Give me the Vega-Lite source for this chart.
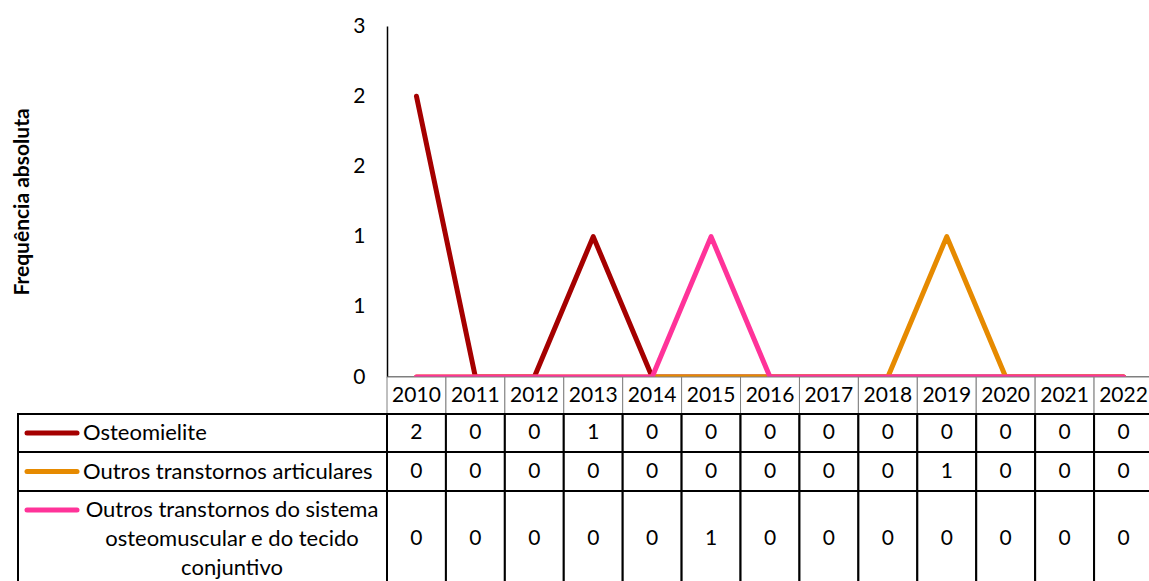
{
  "$schema": "https://vega.github.io/schema/vega-lite/v6.json",
  "padding": {"left": 11, "top": 15, "right": 0, "bottom": 0},
  "background": "white",
  "config": {"view": {"stroke": null}, "font": "Lato", "text": {"font": "Lato"}},
  "datasets": {
    "d": [
      {"ano": "2010", "serie": "Osteomielite", "valor": 2},
      {"ano": "2011", "serie": "Osteomielite", "valor": 0},
      {"ano": "2012", "serie": "Osteomielite", "valor": 0},
      {"ano": "2013", "serie": "Osteomielite", "valor": 1},
      {"ano": "2014", "serie": "Osteomielite", "valor": 0},
      {"ano": "2015", "serie": "Osteomielite", "valor": 0},
      {"ano": "2016", "serie": "Osteomielite", "valor": 0},
      {"ano": "2017", "serie": "Osteomielite", "valor": 0},
      {"ano": "2018", "serie": "Osteomielite", "valor": 0},
      {"ano": "2019", "serie": "Osteomielite", "valor": 0},
      {"ano": "2020", "serie": "Osteomielite", "valor": 0},
      {"ano": "2021", "serie": "Osteomielite", "valor": 0},
      {"ano": "2022", "serie": "Osteomielite", "valor": 0},
      {"ano": "2010", "serie": "Outros transtornos articulares", "valor": 0},
      {"ano": "2011", "serie": "Outros transtornos articulares", "valor": 0},
      {"ano": "2012", "serie": "Outros transtornos articulares", "valor": 0},
      {"ano": "2013", "serie": "Outros transtornos articulares", "valor": 0},
      {"ano": "2014", "serie": "Outros transtornos articulares", "valor": 0},
      {"ano": "2015", "serie": "Outros transtornos articulares", "valor": 0},
      {"ano": "2016", "serie": "Outros transtornos articulares", "valor": 0},
      {"ano": "2017", "serie": "Outros transtornos articulares", "valor": 0},
      {"ano": "2018", "serie": "Outros transtornos articulares", "valor": 0},
      {"ano": "2019", "serie": "Outros transtornos articulares", "valor": 1},
      {"ano": "2020", "serie": "Outros transtornos articulares", "valor": 0},
      {"ano": "2021", "serie": "Outros transtornos articulares", "valor": 0},
      {"ano": "2022", "serie": "Outros transtornos articulares", "valor": 0},
      {"ano": "2010", "serie": "Outros transtornos do sistema osteomuscular e do tecido conjuntivo", "valor": 0},
      {"ano": "2011", "serie": "Outros transtornos do sistema osteomuscular e do tecido conjuntivo", "valor": 0},
      {"ano": "2012", "serie": "Outros transtornos do sistema osteomuscular e do tecido conjuntivo", "valor": 0},
      {"ano": "2013", "serie": "Outros transtornos do sistema osteomuscular e do tecido conjuntivo", "valor": 0},
      {"ano": "2014", "serie": "Outros transtornos do sistema osteomuscular e do tecido conjuntivo", "valor": 0},
      {"ano": "2015", "serie": "Outros transtornos do sistema osteomuscular e do tecido conjuntivo", "valor": 1},
      {"ano": "2016", "serie": "Outros transtornos do sistema osteomuscular e do tecido conjuntivo", "valor": 0},
      {"ano": "2017", "serie": "Outros transtornos do sistema osteomuscular e do tecido conjuntivo", "valor": 0},
      {"ano": "2018", "serie": "Outros transtornos do sistema osteomuscular e do tecido conjuntivo", "valor": 0},
      {"ano": "2019", "serie": "Outros transtornos do sistema osteomuscular e do tecido conjuntivo", "valor": 0},
      {"ano": "2020", "serie": "Outros transtornos do sistema osteomuscular e do tecido conjuntivo", "valor": 0},
      {"ano": "2021", "serie": "Outros transtornos do sistema osteomuscular e do tecido conjuntivo", "valor": 0},
      {"ano": "2022", "serie": "Outros transtornos do sistema osteomuscular e do tecido conjuntivo", "valor": 0}
    ]
  },
  "columns": 2,
  "spacing": 0,
  "bounds": "flush",
  "align": "each",
  "resolve": {"scale": {"color": "shared"}},
  "concat": [
    {
      "width": 369, "height": 351,
      "data": {"values": [{"a": 1}]},
      "mark": {"type": "text"},
      "encoding": {"text": {"value": ""}}
    },
    {
      "width": 766, "height": 351,
      "data": {"name": "d"},
      "mark": {"type": "line", "strokeWidth": 5, "strokeCap": "round", "strokeJoin": "round"},
      "encoding": {
        "x": {"field": "ano", "type": "ordinal", "sort": null,
          "scale": {"type": "point", "padding": 0.5},
          "axis": {"labels": false, "ticks": false, "title": null, "domainColor": "black", "domainWidth": 2}},
        "y": {"field": "valor", "type": "quantitative",
          "scale": {"domain": [0, 2.5], "nice": false, "zero": true},
          "axis": {"values": [0, 0.5, 1, 1.5, 2, 2.5], "format": ".0f", "grid": false, "ticks": false,
            "domainColor": "black", "domainWidth": 1.5, "labelFontSize": 21, "labelColor": "black",
            "labelPadding": 22, "labelFont": "Lato",
            "title": "Frequência absoluta", "titleFont": "Lato", "titleFontSize": 21, "titleFontWeight": "bold",
            "titleColor": "black", "titleAngle": -90, "titleAlign": "center", "titleBaseline": "alphabetic",
            "titleX": -359, "titleY": 175.5}},
        "color": {"field": "serie", "type": "nominal",
          "scale": {"domain": ["Osteomielite", "Outros transtornos articulares", "Outros transtornos do sistema osteomuscular e do tecido conjuntivo"],
            "range": ["#A50000", "#E68A00", "#FF3399"]},
          "legend": null}
      }
    },
    {
      "width": 369, "height": 37,
      "data": {"values": [{"a": 1}]},
      "mark": {"type": "text"},
      "encoding": {"text": {"value": ""}}
    },
    {
      "width": 766, "height": 37,
      "data": {"name": "d"},
      "transform": [{"filter": "datum.serie == 'Osteomielite'"}],
      "layer": [
        {"mark": {"type": "rect", "fill": "white", "stroke": "#808080", "strokeWidth": 1},
         "encoding": {"x": {"field": "ano", "type": "ordinal", "sort": null, "scale": {"paddingInner": 0, "paddingOuter": 0}, "axis": null}}},
        {"mark": {"type": "text", "fontSize": 21, "color": "black", "baseline": "middle"},
         "encoding": {"x": {"field": "ano", "type": "ordinal", "sort": null, "axis": null}, "text": {"field": "ano"}}}
      ]
    },
    {
      "width": 369, "height": 38,
      "data": {"name": "d"},
      "transform": [{"filter": "datum.serie == 'Osteomielite' && datum.ano == '2010'"}],
      "layer": [
        {"mark": {"type": "rect", "fill": "white", "stroke": "black", "strokeWidth": 2}, "encoding": {}},
        {"mark": {"type": "rule", "strokeWidth": 5, "strokeCap": "round"},
         "encoding": {"x": {"value": 9}, "x2": {"value": 59}, "y": {"value": 19},
           "color": {"field": "serie", "type": "nominal", "legend": null}}},
        {"mark": {"type": "text", "fontSize": 22, "color": "black", "align": "left", "baseline": "middle"},
         "encoding": {"x": {"value": 65}, "text": {"field": "serie"}}}
      ]
    },
    {
      "width": 766, "height": 38,
      "data": {"name": "d"},
      "transform": [{"filter": "datum.serie == 'Osteomielite'"}],
      "layer": [
        {"mark": {"type": "rect", "fill": "white", "stroke": "black", "strokeWidth": 2},
         "encoding": {"x": {"field": "ano", "type": "ordinal", "sort": null, "scale": {"paddingInner": 0, "paddingOuter": 0}, "axis": null}}},
        {"mark": {"type": "text", "fontSize": 21, "color": "black", "baseline": "middle"},
         "encoding": {"x": {"field": "ano", "type": "ordinal", "sort": null, "axis": null}, "text": {"field": "valor"}}}
      ]
    },
    {
      "width": 369, "height": 39,
      "data": {"name": "d"},
      "transform": [{"filter": "datum.serie == 'Outros transtornos articulares' && datum.ano == '2010'"}],
      "layer": [
        {"mark": {"type": "rect", "fill": "white", "stroke": "black", "strokeWidth": 2}, "encoding": {}},
        {"mark": {"type": "rule", "strokeWidth": 5, "strokeCap": "round"},
         "encoding": {"x": {"value": 9}, "x2": {"value": 59}, "y": {"value": 19.5},
           "color": {"field": "serie", "type": "nominal", "legend": null}}},
        {"mark": {"type": "text", "fontSize": 22, "color": "black", "align": "left", "baseline": "middle"},
         "encoding": {"x": {"value": 65}, "text": {"field": "serie"}}}
      ]
    },
    {
      "width": 766, "height": 39,
      "data": {"name": "d"},
      "transform": [{"filter": "datum.serie == 'Outros transtornos articulares'"}],
      "layer": [
        {"mark": {"type": "rect", "fill": "white", "stroke": "black", "strokeWidth": 2},
         "encoding": {"x": {"field": "ano", "type": "ordinal", "sort": null, "scale": {"paddingInner": 0, "paddingOuter": 0}, "axis": null}}},
        {"mark": {"type": "text", "fontSize": 21, "color": "black", "baseline": "middle"},
         "encoding": {"x": {"field": "ano", "type": "ordinal", "sort": null, "axis": null}, "text": {"field": "valor"}}}
      ]
    },
    {
      "width": 369, "height": 95,
      "data": {"name": "d"},
      "transform": [{"filter": "datum.serie == 'Outros transtornos do sistema osteomuscular e do tecido conjuntivo' && datum.ano == '2010'"}],
      "layer": [
        {"mark": {"type": "rect", "fill": "white", "stroke": "black", "strokeWidth": 2}, "encoding": {}},
        {"mark": {"type": "rule", "strokeWidth": 5, "strokeCap": "round"},
         "encoding": {"x": {"value": 9}, "x2": {"value": 59}, "y": {"value": 19},
           "color": {"field": "serie", "type": "nominal", "legend": null}}},
        {"mark": {"type": "text", "fontSize": 22, "color": "black", "align": "center", "baseline": "middle", "lineHeight": 29},
         "encoding": {"x": {"value": 214}, "y": {"value": 19}, "text": {"value": ["Outros transtornos do sistema", "osteomuscular e do tecido", "conjuntivo"]}}}
      ]
    },
    {
      "width": 766, "height": 95,
      "data": {"name": "d"},
      "transform": [{"filter": "datum.serie == 'Outros transtornos do sistema osteomuscular e do tecido conjuntivo'"}],
      "layer": [
        {"mark": {"type": "rect", "fill": "white", "stroke": "black", "strokeWidth": 2},
         "encoding": {"x": {"field": "ano", "type": "ordinal", "sort": null, "scale": {"paddingInner": 0, "paddingOuter": 0}, "axis": null}}},
        {"mark": {"type": "text", "fontSize": 21, "color": "black", "baseline": "middle"},
         "encoding": {"x": {"field": "ano", "type": "ordinal", "sort": null, "axis": null}, "text": {"field": "valor"}}}
      ]
    }
  ]
}
